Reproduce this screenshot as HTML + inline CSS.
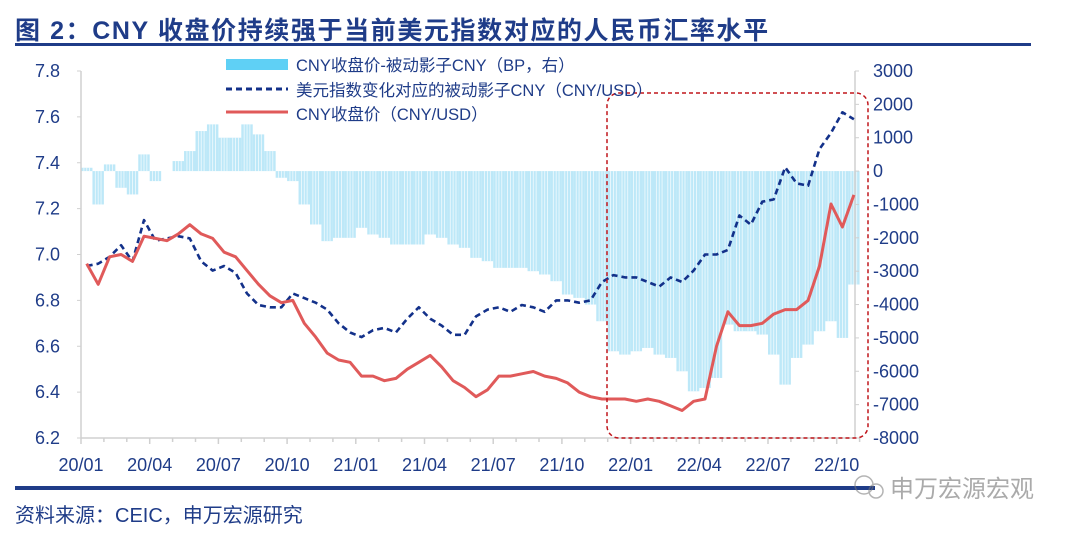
<!DOCTYPE html>
<html><head><meta charset="utf-8"><style>
body{margin:0;background:#fff;width:1080px;height:534px;overflow:hidden;font-family:"Liberation Sans","Noto Sans CJK SC",sans-serif}
</style></head><body>
<svg id="chart" width="1080" height="534" xmlns="http://www.w3.org/2000/svg" font-family="Liberation Sans, Noto Sans CJK SC, sans-serif">
<text x="15" y="39" font-size="25" font-weight="bold" letter-spacing="1.6" fill="#1f3c88">图 2：CNY 收盘价持续强于当前美元指数对应的人民币汇率水平</text>
<rect x="15" y="43" width="1016" height="3" fill="#1f3c88"/>
<g id="plot"></g>
<rect x="607" y="93" width="261" height="345" rx="12" fill="none" stroke="#c0161c" stroke-width="1.5" stroke-dasharray="4,3"/>
<g font-size="16.5" fill="#1f3c88">
<rect x="226" y="59" width="62" height="11" fill="#5fd0f5"/>
<text x="296" y="71">CNY收盘价-被动影子CNY（BP，右）</text>
<line x1="226" y1="89" x2="288" y2="89" stroke="#13318a" stroke-width="3" stroke-dasharray="6,4"/>
<text x="296" y="96">美元指数变化对应的被动影子CNY（CNY/USD）</text>
<line x1="226" y1="112" x2="288" y2="112" stroke="#e05a5a" stroke-width="3"/>
<text x="296" y="120">CNY收盘价（CNY/USD）</text>
</g>
<rect x="15" y="486" width="860" height="4" fill="#1f3c88"/>
<text x="15" y="522" font-size="20" fill="#1f3c88">资料来源：CEIC，申万宏源研究</text>
<g opacity="0.55">
<circle cx="864" cy="485" r="9" fill="none" stroke="#777" stroke-width="1.5"/>
<circle cx="876" cy="491" r="7" fill="none" stroke="#777" stroke-width="1.5"/>
<text x="890" y="497" font-size="24" fill="#666">申万宏源宏观</text>
</g>
</svg>
<script>
const months = ['20/01','20/04','20/07','20/10','21/01','21/04','21/07','21/10','22/01','22/04','22/07','22/10'];
const leftTicks = [6.2,6.4,6.6,6.8,7.0,7.2,7.4,7.6,7.8];
const rightTicks = [-8000,-7000,-6000,-5000,-4000,-3000,-2000,-1000,0,1000,2000,3000];
const cnyClose = [6.96,6.87,6.99,7.00,6.97,7.08,7.07,7.06,7.09,7.13,7.09,7.07,7.01,6.99,6.93,6.87,6.82,6.79,6.80,6.70,6.64,6.57,6.54,6.53,
6.47,6.47,6.45,6.46,6.50,6.53,6.56,6.51,6.45,6.42,6.38,6.41,6.47,6.47,6.48,6.49,6.47,6.46,6.44,6.40,6.38,6.37,6.37,6.37,
6.36,6.37,6.36,6.34,6.32,6.36,6.37,6.60,6.75,6.69,6.69,6.70,6.74,6.76,6.76,6.80,6.95,7.22,7.12,7.26];
const shadowCny = [6.95,6.96,6.99,7.04,6.97,7.15,7.06,7.07,7.08,7.07,6.97,6.93,6.95,6.92,6.83,6.78,6.77,6.77,6.83,6.81,6.79,6.76,6.70,6.66,
6.64,6.67,6.68,6.66,6.72,6.77,6.72,6.69,6.65,6.65,6.73,6.76,6.77,6.75,6.78,6.77,6.75,6.80,6.80,6.79,6.80,6.88,6.91,6.90,
6.90,6.88,6.86,6.90,6.88,6.93,7.00,7.00,7.02,7.17,7.13,7.23,7.24,7.38,7.31,7.30,7.46,7.53,7.62,7.59];
const spreadBp = [100,-1000,200,-500,-700,500,-300,0,300,600,1200,1400,1000,1000,1400,1100,600,-200,-300,-1000,-1600,-2100,-2000,-2000,
-1700,-1900,-2000,-2200,-2200,-2200,-1900,-2000,-2200,-2300,-2600,-2700,-2900,-2900,-2900,-3000,-3100,-3300,-3700,-3800,-4000,-4500,-5400,-5500,
-5400,-5300,-5500,-5600,-6000,-6600,-6500,-6200,-4600,-4800,-4800,-4900,-5500,-6400,-5600,-5200,-4800,-4500,-5000,-3400];

const NS='http://www.w3.org/2000/svg';
const g=document.getElementById('plot');
const X0=81, MW=22.9, YT=71, YB=438;
const xIdx=i=>X0+(i/2+0.25)*MW;
const xMonth=m=>X0+m*MW;
const yL=v=>YB-(v-6.2)/1.6*(YB-YT);
const yR=v=>YB-(v+8000)/11000*(YB-YT);
function mk(tag,attrs,parent){const e=document.createElementNS(NS,tag);for(const k in attrs)e.setAttribute(k,attrs[k]);(parent||g).appendChild(e);return e;}

// bars
spreadBp.forEach((v,i)=>{
  const y0=yR(0), y1=yR(v);
  const bw=MW/2;
  const r=mk('rect',{x:xIdx(i)-bw/2,y:Math.min(y0,y1),width:bw,height:Math.abs(y1-y0),fill:'#bde8f8'});
  
  
  for(let k=1;k<4;k++){const xx=xIdx(i)-bw/2+k*bw/4;mk('line',{x1:xx,x2:xx,y1:y0,y2:y1,stroke:'#fff','stroke-width':0.8,opacity:0.8});}
});
// axes
const la=mk('line',{x1:X0,y1:YT,x2:X0,y2:YB,stroke:'#d0d0d0','stroke-width':1.5});


const ra=mk('line',{x1:855,y1:YT,x2:855,y2:YB,stroke:'#d0d0d0','stroke-width':1.5});


const xa=mk('line',{x1:X0,y1:YB,x2:855,y2:YB,stroke:'#d0d0d0','stroke-width':1.5});


for(let m=0;m<=34;m++){mk('line',{x1:xMonth(m),x2:xMonth(m),y1:YB,y2:YB+(m%3==0?6:4),stroke:'#d0d0d0','stroke-width':1.5});}
leftTicks.forEach(v=>{
  mk('line',{x1:X0-4,x2:X0,y1:yL(v),y2:yL(v),stroke:'#d0d0d0'});
  const t=mk('text',{x:60,y:yL(v)+6,'font-size':18,fill:'#1f3c88','text-anchor':'end'});t.textContent=v.toFixed(1);
  
  
});
rightTicks.forEach(v=>{
  mk('line',{x1:855,x2:859,y1:yR(v),y2:yR(v),stroke:'#d0d0d0'});
  const t=mk('text',{x:873,y:yR(v)+6,'font-size':18,fill:'#1f3c88'});t.textContent=(v<0?'-':'')+Math.abs(v);
  
  
});
months.forEach((m,i)=>{
  const t=mk('text',{x:xMonth(i*3),y:471,'font-size':18,fill:'#1f3c88','text-anchor':'middle'});t.textContent=m;
  
  
});
// lines
const pts=(arr)=>arr.map((v,i)=>xIdx(i).toFixed(1)+','+yL(v).toFixed(1)).join(' ');
const sl=mk('polyline',{points:pts(shadowCny),fill:'none',stroke:'#13318a','stroke-width':2.6,'stroke-dasharray':'6,4','stroke-linejoin':'round'});


const cl=mk('polyline',{points:pts(cnyClose),fill:'none',stroke:'#e05a5a','stroke-width':3,'stroke-linejoin':'round'});


</script>
</body></html>
